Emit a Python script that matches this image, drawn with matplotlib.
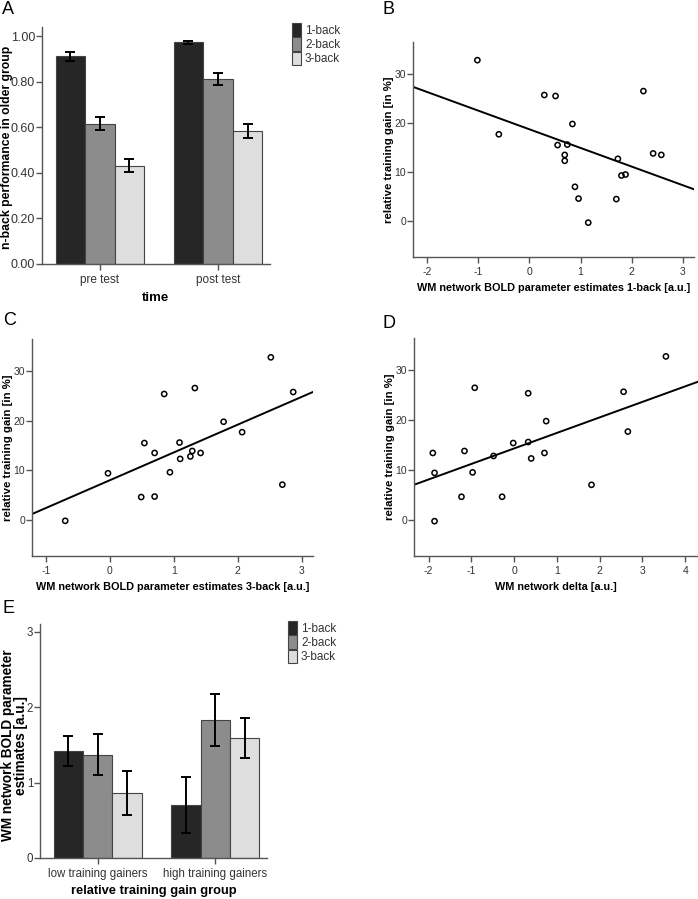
import numpy as np
import matplotlib
matplotlib.use('Agg')
import matplotlib.pyplot as plt
from matplotlib.patches import Patch

plt.rcParams['font.family'] = ['Liberation Sans', 'DejaVu Sans']
plt.rcParams['axes.unicode_minus'] = False

# ---- data ----
nback = ['1-back', '2-back', '3-back']
bar_colors = ['#262626', '#8c8c8c', '#dedede']

timepoints = ['pre test', 'post test']
perf_pre = [0.911, 0.616, 0.432]
perf_post = [0.972, 0.812, 0.585]
perf_pre_err = [0.021, 0.027, 0.030]
perf_post_err = [0.0065, 0.026, 0.030]

gain_groups = ['low training gainers', 'high training gainers']
bold_low = [1.42, 1.37, 0.86]
bold_high = [0.70, 1.83, 1.59]
bold_low_err = [0.20, 0.27, 0.29]
bold_high_err = [0.375, 0.34, 0.26]

bold_1back = [-1.02, -0.60, 0.29, 0.51, 0.55, 0.74, 0.69, 0.69, 0.84, 0.89,
              0.96, 1.15, 1.70, 1.73, 1.80, 1.88, 2.23, 2.42, 2.58]
gain_b = [32.8, 17.7, 25.7, 25.5, 15.5, 15.6, 13.5, 12.3, 19.8, 7.0,
          4.6, -0.3, 4.5, 12.7, 9.3, 9.5, 26.5, 13.8, 13.5]

bold_3back = [-0.70, -0.03, 0.49, 0.54, 0.70, 0.70, 0.85, 0.94, 1.09, 1.10,
              1.26, 1.29, 1.33, 1.42, 1.78, 2.07, 2.52, 2.70, 2.87]
gain_c = [-0.2, 9.4, 4.6, 15.5, 4.7, 13.5, 25.4, 9.6, 15.6, 12.3,
          12.8, 13.9, 26.6, 13.5, 19.8, 17.7, 32.8, 7.1, 25.8]

delta = [-1.90, -1.86, -1.86, -1.23, -1.16, -0.97, -0.92, -0.48, -0.28, -0.02,
         0.33, 0.33, 0.40, 0.71, 0.75, 1.81, 2.56, 2.66, 3.55]
gain_d = [13.4, 9.4, -0.3, 4.6, 13.8, 9.5, 26.5, 12.8, 4.6, 15.4,
          25.4, 15.6, 12.3, 13.4, 19.8, 7.0, 25.7, 17.7, 32.8]

W, H = 698, 899
fig = plt.figure(figsize=(W / 100, H / 100), dpi=100)

def box(l, r, t, b):
    return [l / W, 1 - b / H, (r - l) / W, (b - t) / H]

spine_c = '#555555'
tick_c = '#333333'

def style_ax(ax, fs=9):
    for s in ['top', 'right']:
        ax.spines[s].set_visible(False)
    for s in ['left', 'bottom']:
        ax.spines[s].set_color(spine_c)
        ax.spines[s].set_linewidth(1.0)
    ax.tick_params(colors=spine_c, labelcolor=tick_c, labelsize=fs,
                   length=4, width=1.0, direction='out')

def grouped_bars(ax, groups, vals, errs):
    x = np.arange(len(groups))
    w = 0.25
    for i in range(3):
        hs = [v[i] for v in vals]
        es = [e[i] for e in errs]
        ax.bar(x + (i - 1) * w, hs, w, color=bar_colors[i],
               edgecolor='#444444', linewidth=0.8, zorder=2)
        ax.errorbar(x + (i - 1) * w, hs, yerr=es, fmt='none', ecolor='black',
                    elinewidth=1.4, capsize=3.5, capthick=1.4, zorder=3)
    ax.set_xticks(x)
    ax.set_xticklabels(groups)
    ax.set_xlim(-0.49, 1.44)

def legend_at(x, y):
    handles = [Patch(facecolor=bar_colors[i], edgecolor='#444444', linewidth=0.8,
                     label=nback[i]) for i in range(3)]
    leg = fig.legend(handles=handles, loc='upper left',
                     bbox_to_anchor=(x / W, 1 - y / H),
                     frameon=False, fontsize=8.5, handlelength=0.8, handleheight=1.4,
                     handletextpad=0.3, labelspacing=0.05, borderpad=0,
                     borderaxespad=0)
    for t in leg.get_texts():
        t.set_color(tick_c)

def scatter_panel(ax, xs, ys, xlim, xticks, xlabel):
    ax.scatter(xs, ys, s=14, facecolors='none', edgecolors='black',
               linewidths=1.1, zorder=3)
    k, c = np.polyfit(xs, ys, 1)
    xx = np.array(xlim)
    ax.plot(xx, k * xx + c, color='black', linewidth=1.4, zorder=2)
    ax.set_xlim(*xlim)
    ax.set_ylim(-7.3, 36.5)
    ax.set_xticks(xticks)
    ax.set_yticks([0, 10, 20, 30])
    ax.set_xlabel(xlabel, fontsize=7.8, fontweight='bold', labelpad=4)
    ax.set_ylabel('relative training gain [in %]', fontsize=8.2, fontweight='bold',
                  labelpad=0)
    style_ax(ax, fs=7.5)
    ax.tick_params(axis='y', pad=1)

# ---- A ----
axA = fig.add_axes(box(42, 270, 27, 264))
grouped_bars(axA, timepoints, [perf_pre, perf_post], [perf_pre_err, perf_post_err])
axA.set_ylim(0, 1.04)
axA.set_yticks(np.arange(0, 1.01, 0.2))
axA.set_yticklabels(['%.2f' % v for v in np.arange(0, 1.01, 0.2)])
axA.set_xlabel('time', fontsize=9.5, fontweight='bold', labelpad=4)
axA.set_ylabel('n-back performance in older group', fontsize=8.8, fontweight='bold')
style_ax(axA, fs=9)
axA.tick_params(axis='x', labelsize=8.5)
axA.tick_params(axis='y', pad=1)
axA.yaxis.set_label_coords(-0.128, 0.49)
legend_at(292, 23)

# ---- B ----
axB = fig.add_axes(box(413, 694, 42, 257))
scatter_panel(axB, bold_1back, gain_b, (-2.28, 3.22), [-2, -1, 0, 1, 2, 3],
              'WM network BOLD parameter estimates 1-back [a.u.]')

# ---- C ----
axC = fig.add_axes(box(32, 313, 339, 556))
scatter_panel(axC, bold_3back, gain_c, (-1.22, 3.18), [-1, 0, 1, 2, 3],
              'WM network BOLD parameter estimates 3-back [a.u.]')

# ---- D ----
axD = fig.add_axes(box(414, 698, 338, 556))
scatter_panel(axD, delta, gain_d, (-2.34, 4.3), [-2, -1, 0, 1, 2, 3, 4],
              'WM network delta [a.u.]')

# ---- E ----
axE = fig.add_axes(box(40, 267, 624, 858))
grouped_bars(axE, gain_groups, [bold_low, bold_high], [bold_low_err, bold_high_err])
axE.set_ylim(0, 3.1)
axE.set_yticks([0, 1, 2, 3])
axE.set_xlabel('relative training gain group', fontsize=9.3, fontweight='bold',
               labelpad=3)
axE.set_ylabel('WM network BOLD parameter\nestimates [a.u.]', fontsize=9.8,
               fontweight='bold', linespacing=0.92)
axE.yaxis.set_label_coords(-0.054, 0.48)
style_ax(axE, fs=8.3)
axE.tick_params(axis='y', pad=1)
legend_at(288, 621)

# panel letters
for lab, x, y in [('A', 2, 1), ('B', 383, 1), ('C', 3, 312), ('D', 383, 315), ('E', 3, 600)]:
    fig.text(x / W, 1 - y / H, lab, fontsize=13, va='top', ha='left')

fig.savefig('out.png', dpi=100)
